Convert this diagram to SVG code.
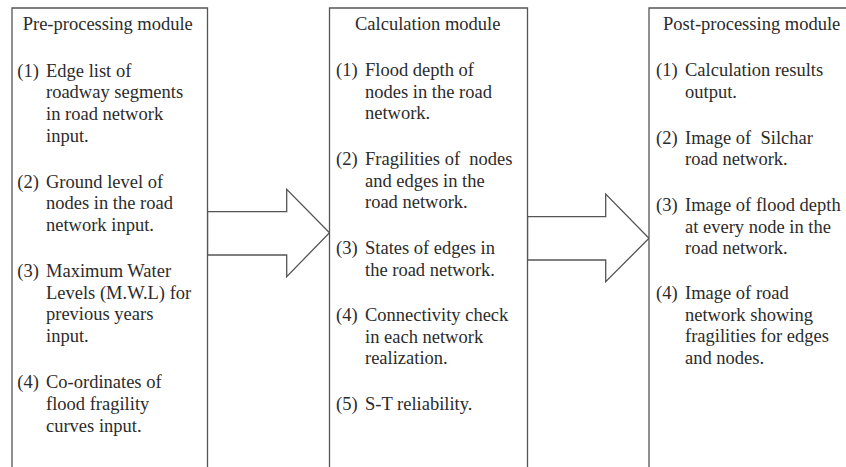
<svg xmlns="http://www.w3.org/2000/svg" width="846" height="467" viewBox="0 0 846 467">
<style>
.box{fill:#fff;stroke:#555;stroke-width:1.3}
.arrow{fill:#fff;stroke:#555;stroke-width:1.3;stroke-linejoin:miter}
text{font-family:'Liberation Serif','DejaVu Serif',serif;font-size:18.5px;fill:#2b2b2b;white-space:pre}
</style>
<rect width="846" height="467" fill="#fff"/>
<g id="connectors">
<polygon class="arrow" points="207.5,211.7 286.7,211.7 286.7,189.3 329.5,232.7 286.7,276.7 286.7,255 207.5,255"/>
<polygon class="arrow" points="527.5,216.7 605.7,216.7 605.7,194 649,238.3 605.7,281.7 605.7,260 527.5,260"/>
</g>
<g id="pre-processing">
<path class="box" d="M12,480 V8 H207.5 V480"/>
<text x="22.7" y="30">Pre-processing module</text>
<text x="17.3" y="76.5">(1)</text>
<text x="46" y="76.5">Edge list of</text>
<text x="46" y="98.2">roadway segments</text>
<text x="46" y="119.9">in road network</text>
<text x="46" y="141.6">input.</text>
<text x="17.3" y="187.6">(2)</text>
<text x="46" y="187.6">Ground level of</text>
<text x="46" y="209.3">nodes in the road</text>
<text x="46" y="231">network input.</text>
<text x="17.3" y="277">(3)</text>
<text x="46" y="277">Maximum Water</text>
<text x="46" y="298.7">Levels (M.W.L) for</text>
<text x="46" y="320.4">previous years</text>
<text x="46" y="342.1">input.</text>
<text x="17.3" y="388.1">(4)</text>
<text x="46" y="388.1">Co-ordinates of</text>
<text x="46" y="409.8">flood fragility</text>
<text x="46" y="431.5">curves input.</text>
</g>
<g id="calculation">
<path class="box" d="M329.5,480 V8 H527.5 V480"/>
<text x="355" y="30">Calculation module</text>
<text x="336" y="76">(1)</text>
<text x="365" y="76">Flood depth of</text>
<text x="365" y="97.5">nodes in the road</text>
<text x="365" y="119">network.</text>
<text x="336" y="165">(2)</text>
<text x="365" y="165" xml:space="preserve">Fragilities of  nodes</text>
<text x="365" y="186.5">and edges in the</text>
<text x="365" y="208">road network.</text>
<text x="336" y="254">(3)</text>
<text x="365" y="254">States of edges in</text>
<text x="365" y="275.5">the road network.</text>
<text x="336" y="321">(4)</text>
<text x="365" y="321">Connectivity check</text>
<text x="365" y="342.5">in each network</text>
<text x="365" y="364">realization.</text>
<text x="336" y="410">(5)</text>
<text x="365" y="410">S-T reliability.</text>
</g>
<g id="post-processing">
<path class="box" d="M649,480 V8 H860"/>
<text x="663" y="30">Post-processing module</text>
<text x="656" y="76">(1)</text>
<text x="685" y="76">Calculation results</text>
<text x="685" y="97.5">output.</text>
<text x="656" y="143.5">(2)</text>
<text x="685" y="143.5" xml:space="preserve">Image of  Silchar</text>
<text x="685" y="165">road network.</text>
<text x="656" y="211">(3)</text>
<text x="685" y="211">Image of flood depth</text>
<text x="685" y="232.5">at every node in the</text>
<text x="685" y="254">road network.</text>
<text x="656" y="299">(4)</text>
<text x="685" y="299">Image of road</text>
<text x="685" y="320.5">network showing</text>
<text x="685" y="342">fragilities for edges</text>
<text x="685" y="363.5">and nodes.</text>
</g>
</svg>
